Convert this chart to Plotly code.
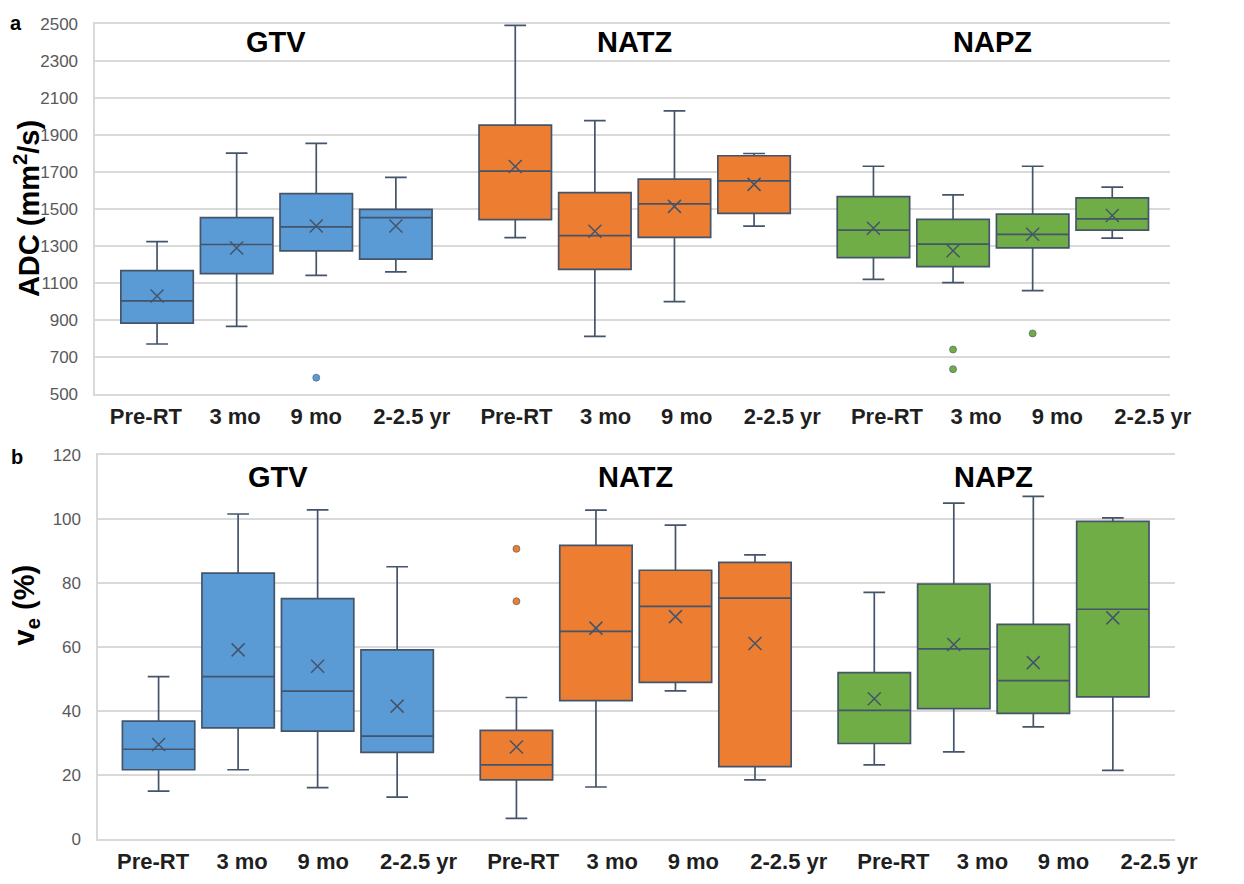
import plotly.graph_objects as go

# ---------------- data ----------------
GROUPS = ["GTV", "NATZ", "NAPZ"]
TIMEPOINTS = ["Pre-RT", "3 mo", "9 mo", "2-2.5 yr"]

# Panel a: ADC (mm^2/s)
adc_low = {"GTV": [768, 863, 1139, 1158], "NATZ": [1343, 809, 997, 1405], "NAPZ": [1117, 1100, 1057, 1340]}
adc_q1 = {"GTV": [881, 1149, 1271, 1227], "NATZ": [1440, 1172, 1345, 1474], "NAPZ": [1235, 1186, 1288, 1384]}
adc_med = {"GTV": [1001, 1306, 1401, 1451], "NATZ": [1703, 1354, 1526, 1650], "NAPZ": [1384, 1308, 1361, 1444]}
adc_q3 = {"GTV": [1165, 1451, 1581, 1496], "NATZ": [1951, 1586, 1659, 1786], "NAPZ": [1565, 1442, 1470, 1558]}
adc_high = {"GTV": [1322, 1800, 1853, 1669], "NATZ": [2491, 1976, 2029, 1798], "NAPZ": [1729, 1574, 1729, 1616]}
adc_mean = {"GTV": [1027, 1287, 1406, 1406], "NATZ": [1728, 1378, 1512, 1631], "NAPZ": [1394, 1272, 1361, 1463]}
adc_outliers = {"GTV": [[], [], [586], []], "NATZ": [[], [], [], []], "NAPZ": [[], [738, 632], [825], []]}

# Panel b: ve (%)
ve_low = {"GTV": [14.9, 21.6, 16.0, 13.0], "NATZ": [6.4, 16.2, 46.3, 18.4], "NAPZ": [23.1, 27.2, 35.0, 21.4]}
ve_q1 = {"GTV": [21.6, 34.7, 33.7, 27.0], "NATZ": [18.4, 43.2, 48.9, 22.6], "NAPZ": [29.8, 40.7, 39.2, 44.4]}
ve_med = {"GTV": [28.0, 50.7, 46.2, 32.1], "NATZ": [23.1, 64.9, 72.7, 75.3], "NAPZ": [40.2, 59.4, 49.5, 71.8]}
ve_q3 = {"GTV": [36.8, 83.1, 75.1, 59.1], "NATZ": [33.9, 91.8, 84.0, 86.5], "NAPZ": [52.0, 79.7, 67.1, 99.3]}
ve_high = {"GTV": [50.7, 101.6, 102.9, 85.1], "NATZ": [44.2, 102.8, 98.1, 88.8], "NAPZ": [77.1, 105.0, 107.1, 100.4]}
ve_mean = {"GTV": [29.5, 59.1, 54.0, 41.5], "NATZ": [28.7, 65.9, 69.5, 61.1], "NAPZ": [43.8, 60.8, 55.1, 69.1]}
ve_outliers = {"GTV": [[], [], [], []], "NATZ": [[90.7, 74.3], [], [], []], "NAPZ": [[], [], [], []]}

# ---------------- style / layout ----------------
COLORS = {"GTV": "#5B9BD5", "NATZ": "#ED7D31", "NAPZ": "#70AD47"}
EDGE = "#44546A"
GRID = "#D9D9D9"
FONT = "Liberation Sans"
GROUP_STRIDE = 4.5
LABEL_STEP = [0, 1.12, 2.14, 3.34]
LABEL_STRIDE = 4.655

W, H = 1244, 884


def px_x(X):
    return X / W


def px_y(Y):
    return 1 - Y / H


def pos(g, t):
    return g * GROUP_STRIDE + t


fig = go.Figure()

panels = [
    dict(xa="x", ya="y", low=adc_low, q1=adc_q1, med=adc_med, q3=adc_q3, high=adc_high,
         mean=adc_mean, out=adc_outliers),
    dict(xa="x2", ya="y2", low=ve_low, q1=ve_q1, med=ve_med, q3=ve_q3, high=ve_high,
         mean=ve_mean, out=ve_outliers),
]

for p in panels:
    for g, grp in enumerate(GROUPS):
        col = COLORS[grp]
        xs = [pos(g, t) for t in range(len(TIMEPOINTS))]
        for t in range(len(TIMEPOINTS)):
            fig.add_trace(go.Box(
                x=[xs[t]], q1=[p["q1"][grp][t]], median=[p["med"][grp][t]], q3=[p["q3"][grp][t]],
                lowerfence=[p["low"][grp][t]], upperfence=[p["high"][grp][t]],
                width=0.91, whiskerwidth=0.3, fillcolor=col,
                line=dict(color=EDGE, width=1.7), boxpoints=False,
                xaxis=p["xa"], yaxis=p["ya"], showlegend=False, hoverinfo="skip"))
        fig.add_trace(go.Scatter(
            x=xs, y=p["mean"][grp], mode="markers",
            marker=dict(symbol="x-thin-open", size=13, color=EDGE, line=dict(color=EDGE, width=1.5)),
            xaxis=p["xa"], yaxis=p["ya"], showlegend=False, hoverinfo="skip"))
        ox, oy = [], []
        for t in range(len(TIMEPOINTS)):
            for v in p["out"][grp][t]:
                ox.append(xs[t])
                oy.append(v)
        if ox:
            fig.add_trace(go.Scatter(
                x=ox, y=oy, mode="markers",
                marker=dict(symbol="circle", size=7, color=col, line=dict(color=EDGE, width=0.6)),
                xaxis=p["xa"], yaxis=p["ya"], showlegend=False, hoverinfo="skip"))


def label_vals(base):
    return [base + g * LABEL_STRIDE + s for g in range(len(GROUPS)) for s in LABEL_STEP]


ticktext = [f"<b>{tp}</b>" for _ in GROUPS for tp in TIMEPOINTS]

xcommon = dict(showgrid=False, zeroline=False, showline=True, mirror=True, linecolor=GRID, linewidth=1.5,
               ticks="", tickfont=dict(family=FONT, size=22, color="#1f1f1f"), ticktext=ticktext,
               tickmode="array", ticklabelstandoff=2)
ycommon = dict(showgrid=True, gridcolor=GRID, gridwidth=1.5, zeroline=False, showline=True,
               linecolor=GRID, linewidth=1.5, ticks="", ticklabelstandoff=12,
               tickfont=dict(family=FONT, size=17, color="#595959"))

fig.update_layout(
    width=W, height=H, margin=dict(l=0, r=0, t=0, b=0),
    paper_bgcolor="white", plot_bgcolor="white",
    xaxis=dict(domain=[px_x(97), px_x(1192)], range=[-0.777, 12.725], anchor="y",
               tickvals=label_vals(-0.14), **xcommon),
    yaxis=dict(domain=[px_y(393), px_y(15)], range=[500, 2500], dtick=200, tick0=500, anchor="x", **ycommon),
    xaxis2=dict(domain=[px_x(100), px_x(1197)], range=[-0.76, 12.78], anchor="y2",
                tickvals=label_vals(-0.07), **xcommon),
    yaxis2=dict(domain=[px_y(848), px_y(456)], range=[0, 120], dtick=20, tick0=0, anchor="x2", **ycommon),
)

ann = []
for g, grp in enumerate(GROUPS):
    ann.append(dict(x=pos(g, 1.5), xref="x", y=px_y(34), yref="paper", text=f"<b>{grp}</b>",
                    showarrow=False, font=dict(family=FONT, size=29, color="black"),
                    xanchor="center", yanchor="middle"))
    ann.append(dict(x=pos(g, 1.5), xref="x2", y=px_y(478), yref="paper", text=f"<b>{grp}</b>",
                    showarrow=False, font=dict(family=FONT, size=29, color="black"),
                    xanchor="center", yanchor="middle"))
ann += [
    dict(x=px_x(16), y=px_y(14), xref="paper", yref="paper", text="<b>a</b>", showarrow=False,
         font=dict(family=FONT, size=20, color="black"), xanchor="center", yanchor="middle"),
    dict(x=px_x(17), y=px_y(458), xref="paper", yref="paper", text="<b>b</b>", showarrow=False,
         font=dict(family=FONT, size=20, color="black"), xanchor="center", yanchor="middle"),
    dict(x=px_x(27), y=px_y(204), xref="paper", yref="paper", text="<b>ADC (mm<sup>2</sup>/s)</b>",
         showarrow=False, textangle=-90, font=dict(family=FONT, size=29, color="black"),
         xanchor="center", yanchor="middle"),
    dict(x=px_x(26), y=px_y(609), xref="paper", yref="paper", text="<b>v<sub>e</sub> (%)</b>",
         showarrow=False, textangle=-90, font=dict(family=FONT, size=29, color="black"),
         xanchor="center", yanchor="middle"),
]
fig.update_layout(annotations=ann)

fig.write_html("out.html", config={"displayModeBar": False},
               post_script="document.body.style.margin='0px';document.body.style.overflow='hidden';")
